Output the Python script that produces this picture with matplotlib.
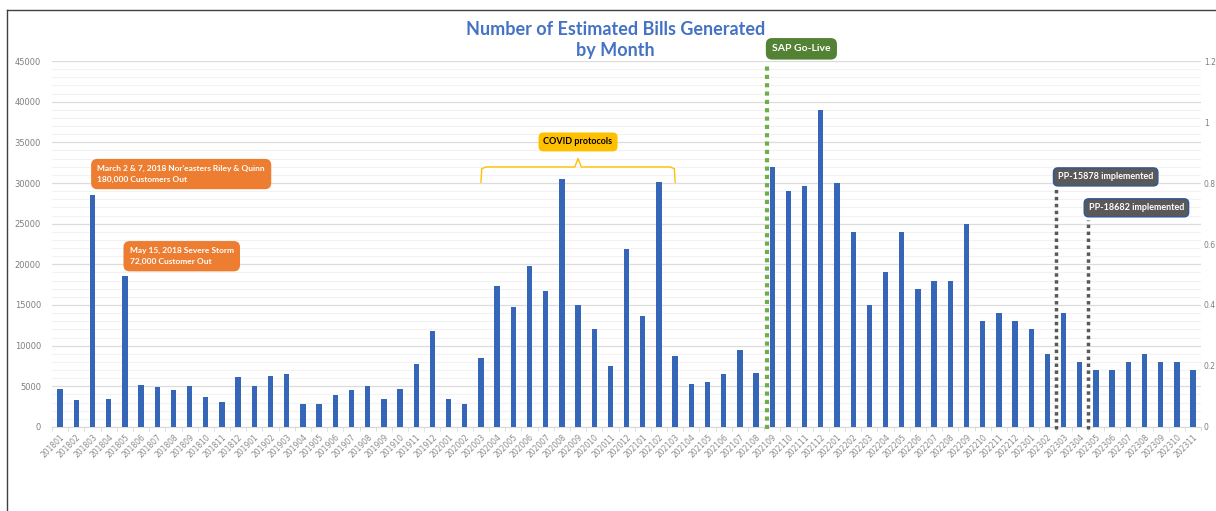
import numpy as np
import matplotlib.pyplot as plt
from matplotlib.lines import Line2D
from matplotlib.ticker import MultipleLocator

# monthly periods, Jan 2018 - Nov 2023
months = [f"{y}{m:02d}" for y in range(2018, 2024) for m in range(1, 13)][:71]

# estimated bills generated per month
bills = [4700, 3300, 28500, 3500, 18600, 5200, 4900, 4500, 5000, 3700, 3100, 6100,
         5000, 6300, 6500, 2800, 2800, 3900, 4600, 5000, 3500, 4700, 7800, 11800,
         3500, 2800, 8500, 17300, 14800, 19800, 16700, 30500, 15000, 12100, 7500, 21900,
         13600, 30100, 8700, 5300, 5500, 6500, 9500, 6700, 32000, 29000, 29600, 39000,
         30000, 24000, 15000, 19000, 24000, 17000, 18000, 18000, 25000, 13000, 14000, 13000,
         12000, 9000, 14000, 8000, 7000, 7000, 8000, 9000, 8000, 8000, 7000]

right_ticks = [0, 0.2, 0.4, 0.6, 0.8, 1, 1.2]

blue = '#3566b8'
label_font = ['Liberation Sans Narrow', 'Lato', 'DejaVu Sans']

fig = plt.figure(figsize=(12.16, 5.11), dpi=100)
ax = fig.add_axes([0.0428, 0.1644, 0.945, 0.7162])

x = np.arange(len(months))
ax.bar(x, bills, width=0.33, color=blue, zorder=3)

ax.set_xlim(-0.5, len(months) - 0.5)
ax.set_ylim(0, 45000)
ax.yaxis.set_major_locator(MultipleLocator(5000))
ax.yaxis.set_minor_locator(MultipleLocator(1000))
ax.grid(axis='y', which='major', color='#dcdcdc', lw=0.9, zorder=0)
ax.grid(axis='y', which='minor', color='#f2f2f2', lw=0.8, zorder=0)
for s in ['top', 'right', 'left']:
    ax.spines[s].set_visible(False)
ax.spines['bottom'].set_color('#d9d9d9')

ax.set_xticks(x)
ax.set_xticklabels(months, rotation=45, ha='right', rotation_mode='anchor',
                   fontsize=5.5, color='#8a8a8a')
ax.set_xticks(np.arange(-0.5, len(months), 1), minor=True)
ax.tick_params(axis='x', which='major', length=0, pad=4)
ax.tick_params(axis='x', which='minor', length=3, color='#d9d9d9')
ax.tick_params(axis='y', which='both', length=0, labelsize=6, labelcolor='#7f7f7f', pad=8)

ax2 = ax.twinx()
ax2.set_ylim(0, 1.2)
ax2.set_yticks(right_ticks)
ax2.set_yticklabels([f"{t:g}" for t in right_ticks])
ax2.tick_params(axis='y', length=0, labelsize=5.5, labelcolor='#7f7f7f', pad=2)
for s in ax2.spines.values():
    s.set_visible(False)

# event markers
ax.plot([43.7, 43.7], [-300, 44500], ls=(0, (1, 1)), lw=3, color='#70ad47',
        clip_on=False, zorder=4)
ax.plot([61.55, 61.55], [-300, 29400], ls=(0, (1, 1)), lw=2.5, color='#595959',
        clip_on=False, zorder=4)
ax.plot([63.5, 63.5], [-300, 25400], ls=(0, (1, 1)), lw=2.5, color='#595959',
        clip_on=False, zorder=4)

ax.text(45.8, 46500, 'SAP Go-Live', ha='center', va='center', fontsize=7.5,
        fontweight='bold', color='white', family=label_font, zorder=6,
        bbox=dict(boxstyle='round,pad=0.6', fc='#548235', ec='none'))
ax.text(64.6, 30750, 'PP-15878 implemented', ha='center', va='center', fontsize=6.5,
        fontweight='bold', color='white', family=label_font, zorder=6,
        bbox=dict(boxstyle='round,pad=0.5', fc='#595959', ec='#2f5597', lw=1))
ax.text(66.5, 26950, 'PP-18682 implemented', ha='center', va='center', fontsize=6.5,
        fontweight='bold', color='white', family=label_font, zorder=6,
        bbox=dict(boxstyle='round,pad=0.5', fc='#595959', ec='#2f5597', lw=1))

# storm callouts
ax.text(2.3, 31100, "March 2 & 7, 2018 Nor'easters Riley & Quinn\n180,000 Customers Out",
        ha='left', va='center', fontsize=6, fontweight='bold', color='white',
        family=label_font, linespacing=1.6, zorder=6,
        bbox=dict(boxstyle='round,pad=0.75', fc='#ed7d31', ec='none'))
ax.text(4.3, 21000, "May 15, 2018 Severe Storm\n72,000 Customer Out",
        ha='left', va='center', fontsize=6, fontweight='bold', color='white',
        family=label_font, linespacing=1.6, zorder=6,
        bbox=dict(boxstyle='round,pad=0.75', fc='#ed7d31', ec='none'))

# covid period bracket
bx = [26.0, 26.05, 26.3, 31.8, 32.0, 32.2, 37.7, 37.95, 38.0]
by = [30100, 31750, 31970, 31970, 33000, 31970, 31970, 31750, 30100]
ax.plot(bx, by, color='#ffc000', lw=1, zorder=5)
ax.text(32.0, 35050, 'COVID protocols', ha='center', va='center', fontsize=6.5,
        fontweight='bold', color='black', family=label_font, zorder=6,
        bbox=dict(boxstyle='round,pad=0.55', fc='#ffc000', ec='none'))

fig.text(0.506, 0.921, 'Number of Estimated Bills Generated\nby Month', ha='center',
         va='center', fontsize=13, fontweight='bold', color='#4472c4',
         family=['Lato', 'DejaVu Sans'], linespacing=1.3)

# frame edges
fig.add_artist(Line2D([7 / 1216, 7 / 1216], [0, 1 - 10 / 511], color='#404040', lw=1))
fig.add_artist(Line2D([7 / 1216, 1], [1 - 10 / 511, 1 - 10 / 511], color='#404040', lw=1))

fig.savefig('out.png', dpi=100)
